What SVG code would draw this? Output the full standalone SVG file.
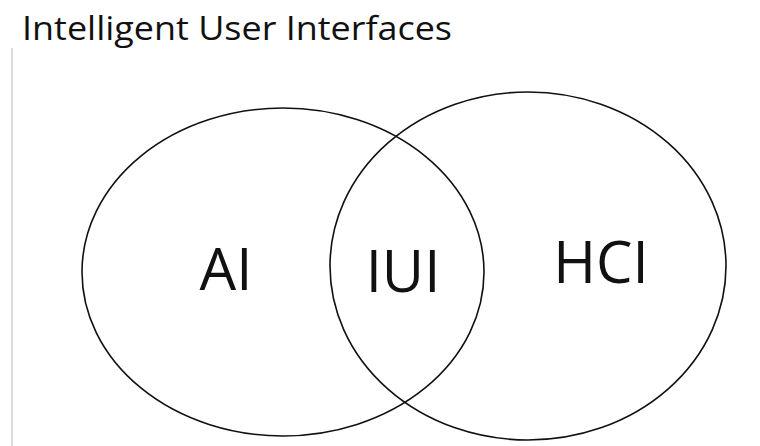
<svg xmlns="http://www.w3.org/2000/svg" width="760" height="446" viewBox="0 0 760 446">
<style>
.c{fill:none;stroke:#111;stroke-width:1.6}
.t{font-family:"Open Sans","Liberation Sans",sans-serif;fill:#111}
</style>
<rect width="760" height="446" fill="#fff"/>
<line x1="12" y1="48" x2="12" y2="446" stroke="#ddd" stroke-width="2"/>
<text class="t" x="22" y="40" font-size="32" textLength="430" lengthAdjust="spacingAndGlyphs">Intelligent User Interfaces</text>
<g id="ai"><ellipse class="c" cx="283" cy="272" rx="201" ry="164"/><text class="t" x="226" y="290" text-anchor="middle" font-size="58">AI</text></g>
<g id="hci"><ellipse class="c" cx="528" cy="266" rx="198" ry="174"/><text class="t" x="601" y="283" text-anchor="middle" font-size="58">HCI</text></g>
<g id="iui"><text class="t" x="403" y="292" text-anchor="middle" font-size="58">IUI</text></g>
<g id="connectors"/>
</svg>
